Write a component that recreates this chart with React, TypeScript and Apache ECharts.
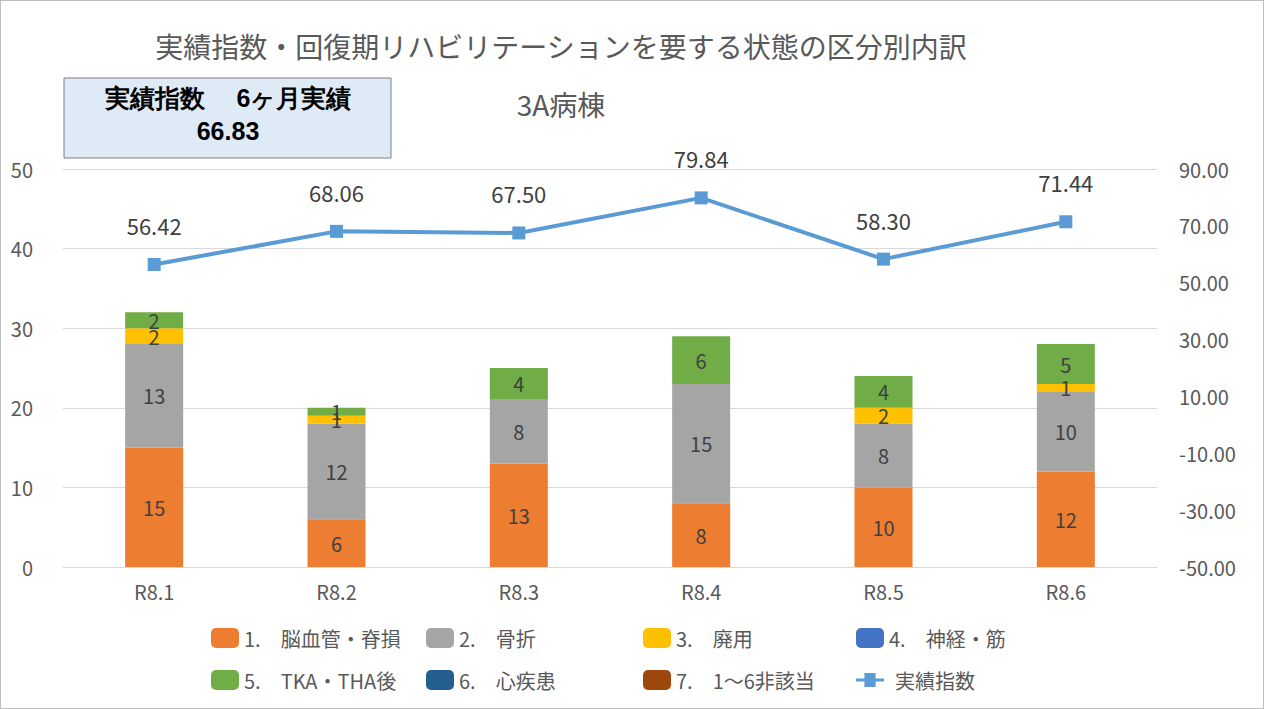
import React, { useEffect, useRef } from "react";
import * as echarts from "echarts";

const categories = ["R8.1", "R8.2", "R8.3", "R8.4", "R8.5", "R8.6"];
const s1 = [15, 6, 13, 8, 10, 12];
const s2 = [13, 12, 8, 15, 8, 10];
const s3 = [2, 1, 0, 0, 2, 1];
const s4 = [0, 0, 0, 0, 0, 0];
const s5 = [2, 1, 4, 6, 4, 5];
const s6 = [0, 0, 0, 0, 0, 0];
const s7 = [0, 0, 0, 0, 0, 0];
const indexValues = [56.42, 68.06, 67.5, 79.84, 58.3, 71.44];
const names = ["1.\u3000脳血管・脊損", "2.\u3000骨折", "3.\u3000廃用", "4.\u3000神経・筋", "5.\u3000TKA・THA後", "6.\u3000心疾患", "7.\u30001～6非該当", "実績指数"];
const colors = ["#ED7D31", "#A5A5A5", "#FFC000", "#4472C4", "#70AD47", "#255E91", "#9E480E", "#5B9BD5"];

const FONT = "'Noto Sans CJK JP', 'Noto Sans', sans-serif";

export default function App() {
  const ref = useRef<HTMLDivElement>(null);
  useEffect(() => {
    const chart = echarts.init(ref.current!, null, { renderer: "svg" });
    const stacks = [s1, s2, s3, s4, s5, s6, s7];
    const bars = stacks.map((d, i) => ({
      name: names[i],
      type: "bar",
      stack: "a",
      barWidth: 58,
      data: d,
      itemStyle: { color: colors[i] },
      label: {
        show: true,
        color: "#404040",
        fontSize: 20,
        fontFamily: FONT,
        formatter: (p: any) => (p.value === 0 ? "" : String(p.value)),
      },
    }));
    const legendPos = [
      [205, 622], [420, 622], [637, 622], [850, 622],
      [205, 664], [420, 664], [637, 664], [850, 664],
    ];
    chart.setOption({
      animation: false,
      textStyle: { fontFamily: FONT },
      title: [
        { text: "実績指数・回復期リハビリテーションを要する状態の区分別内訳", left: 555, top: 26, textAlign: "center", textStyle: { fontSize: 28, fontWeight: "normal", color: "#595959", fontFamily: FONT } },
        { text: "3A病棟", left: 555, top: 84, textAlign: "center", textStyle: { fontSize: 28, fontWeight: "normal", color: "#595959", fontFamily: FONT } },
      ],
      graphic: [
        { type: "rect", shape: { x: 63, y: 77, width: 327, height: 80 }, style: { fill: "#DEEBF7", stroke: "#7F7F7F", lineWidth: 1 } },
        { type: "text", x: 227, y: 80, style: { text: "実績指数\u3000 6ヶ月実績\n66.83", align: "center", fontSize: 25, fontWeight: "bold", lineHeight: 33, fill: "#000", font: "bold 25px " + FONT } },
      ],
      legend: legendPos.map((p, i) => ({
        data: [i === 7 ? { name: names[i], icon: "path://M0,4L6,4L6,0L14,0L14,4L20,4L20,6L14,6L14,10L6,10L6,6L0,6Z" } : names[i]],
        left: p[0], top: p[1], itemWidth: i === 7 ? 40 : 28, itemHeight: i === 7 ? 14 : 20,
        textStyle: { fontSize: 20, color: "#595959", fontFamily: FONT },
      })),
      grid: { left: 62, right: 106, top: 168, bottom: 141 },
      xAxis: {
        type: "category", data: categories,
        axisLine: { lineStyle: { color: "#D9D9D9" } }, axisTick: { show: false },
        axisLabel: { fontSize: 20, color: "#595959", margin: 14 },
      },
      yAxis: [
        { type: "value", min: 0, max: 50, interval: 10, axisLabel: { fontSize: 20, color: "#595959", margin: 30 }, splitLine: { lineStyle: { color: "#D9D9D9" } } },
        { type: "value", min: -50, max: 90, interval: 20, axisLabel: { fontSize: 20, color: "#595959", margin: 22, formatter: (v: number) => v.toFixed(2) }, splitLine: { show: false } },
      ],
      series: [
        ...bars,
        {
          name: names[7], type: "line", yAxisIndex: 1, data: indexValues,
          symbol: "rect", symbolSize: 13,
          lineStyle: { color: colors[7], width: 4 }, itemStyle: { color: colors[7] },
          label: { show: true, position: "top", distance: 22, fontSize: 22, color: "#404040", formatter: (p: any) => p.value.toFixed(2) },
        },
      ],
    });
    return () => chart.dispose();
  }, []);
  return <div ref={ref} style={{ position: "absolute", left: 0, top: 0, width: 1262, height: 707, border: "1px solid #BFBFBF", background: "#fff" }} />;
}
